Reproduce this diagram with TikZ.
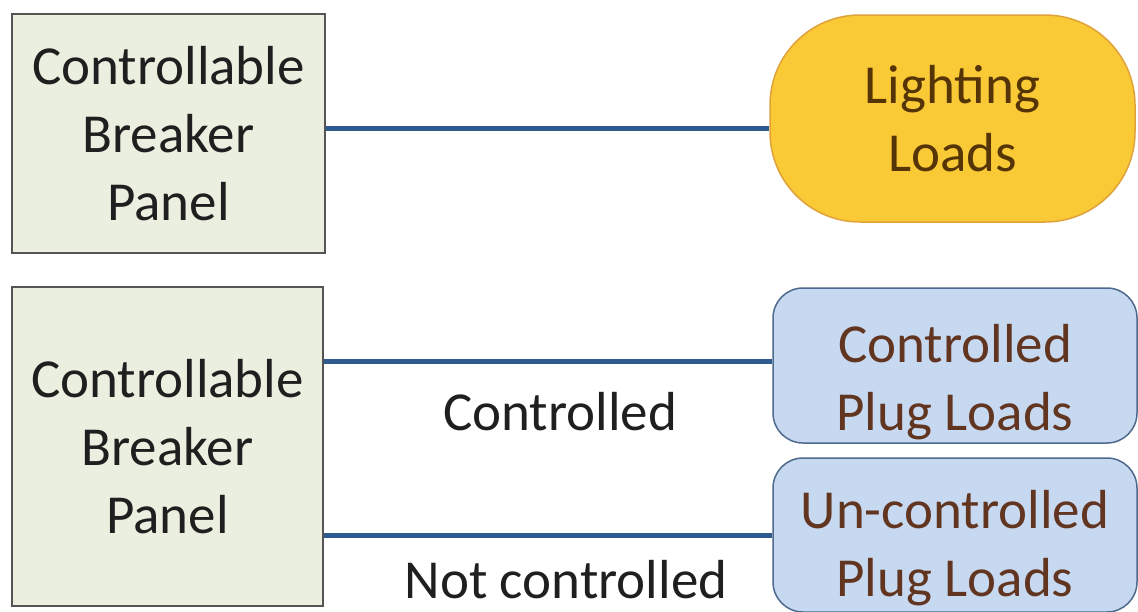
\documentclass[tikz,border=0pt]{standalone}
\usepackage{fontspec}
\setmainfont{Carlito}
\definecolor{panelfill}{HTML}{EBEFE0}
\definecolor{panelline}{HTML}{555555}
\definecolor{lightfill}{HTML}{FAC936}
\definecolor{lightline}{HTML}{E0A23A}
\definecolor{lighttext}{HTML}{553505}
\definecolor{plugfill}{HTML}{C6D9F0}
\definecolor{plugline}{HTML}{4E6A8C}
\definecolor{plugtext}{HTML}{623520}
\definecolor{wire}{HTML}{2E5A8E}
\newcommand{\toppad}[1]{\rule{0pt}{#1}}
\begin{document}
\begin{tikzpicture}[x=1pt,y=-1pt,
  every node/.style={font=\fontsize{55}{68}\selectfont, align=center, inner sep=0pt},
  panel/.style={draw=panelline, line width=2pt, fill=panelfill, text=black!88, minimum width=#1},
  lightbox/.style={draw=lightline, line width=1.5pt, fill=lightfill, text=lighttext, rounded corners=90pt, minimum width=365pt, minimum height=207pt},
  plugbox/.style={draw=plugline, line width=1.5pt, fill=plugfill, text=plugtext, rounded corners=30pt, minimum width=364pt},
  wireline/.style={draw=wire, line width=5pt},
  lbl/.style={text=black!88}]
\useasboundingbox (0,0) rectangle (1138,611);
\node[panel=313pt, minimum height=239pt] (b1) at (168.5,133.5) {Controllable\\Breaker\\Panel};
\node[panel=311pt, minimum height=319pt] (b2) at (167.5,446.5) {Controllable\\Breaker\\Panel};
\node[lightbox] (light) at (952.5,118.5) {Lighting\\Loads};
\node[plugbox, minimum height=155pt] (cpl) at (955,365.5) {\toppad{72pt}Controlled\\Plug Loads};
\node[plugbox, minimum height=154pt] (upl) at (955,535) {\toppad{64pt}Un-controlled\\Plug Loads};
\node[lbl] (lc) at (560,412) {Controlled};
\node[lbl] (lnc) at (566,580) {Not controlled};
\draw[wireline] ([yshift=-9.5pt]light.west -| b1.east) -- ([yshift=-9.5pt]light.west);
\draw[wireline] ([yshift=4.5pt]cpl.west -| b2.east) -- ([yshift=4.5pt]cpl.west);
\draw[wireline] (upl.west -| b2.east) -- (upl.west);
\end{tikzpicture}
\end{document}
